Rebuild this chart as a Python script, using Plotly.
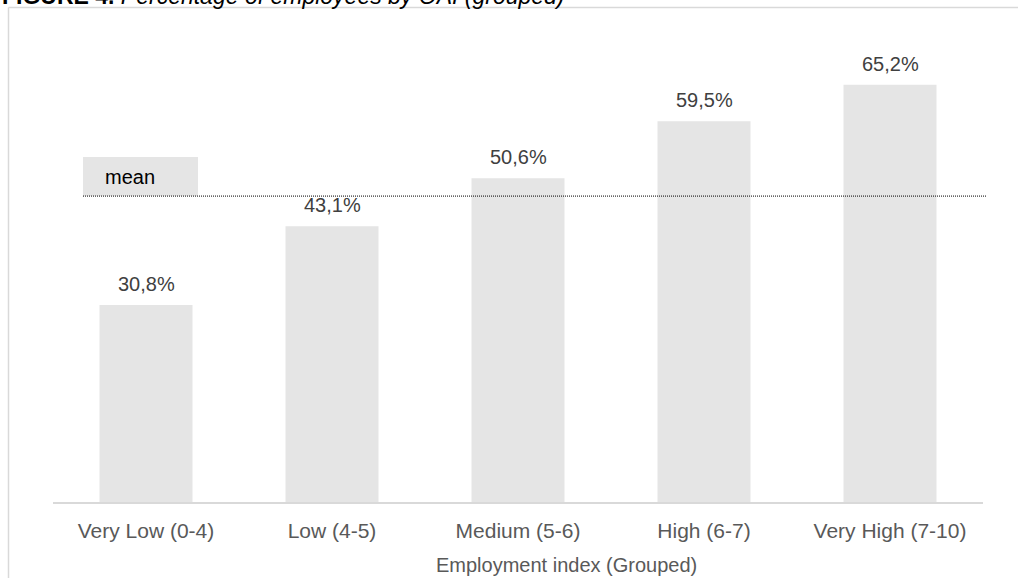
import plotly.graph_objects as go

# Share of employees by grouped employment index
categories = ["Very Low (0-4)", "Low (4-5)", "Medium (5-6)", "High (6-7)", "Very High (7-10)"]
shares = [30.8, 43.1, 50.6, 59.5, 65.2]
mean_share = 47.8
value_labels = ["30,8%", "43,1%", "50,6%", "59,5%", "65,2%"]

W, H = 1018, 578
M_L, M_R, M_T, M_B = 53, 35, 54, 76
PW, PH = W - M_L - M_R, H - M_T - M_B


def px_x(x):
    return (x - M_L) / PW


def px_y(y):
    return (H - M_B - y) / PH


FONT = "Liberation Sans, Arial, sans-serif"

fig = go.Figure()
fig.add_trace(go.Bar(
    x=categories, y=shares,
    marker=dict(color="#e5e5e5", line=dict(width=0)),
    hoverinfo="x+y",
    showlegend=False,
))

annotations = []
for cat, val, lab in zip(categories, shares, value_labels):
    annotations.append(dict(
        x=cat, y=val, xref="x", yref="y", text=lab, showarrow=False,
        yanchor="bottom", yshift=8,
        font=dict(family=FONT, size=20, color="#404040"),
    ))

# mean marker label
annotations.append(dict(
    x=px_x(103), y=px_y(177), xref="paper", yref="paper", text="mean",
    showarrow=False, xanchor="left", yanchor="middle",
    font=dict(family=FONT, size=20, color="#000000"),
))

# axis title
annotations.append(dict(
    x=px_x(566), y=px_y(565), xref="paper", yref="paper",
    text="Employment index (Grouped)", showarrow=False,
    xanchor="center", yanchor="middle",
    font=dict(family=FONT, size=20, color="#595959"),
))

# figure caption (runs off the top edge of the page)
annotations.append(dict(
    x=px_x(0), y=px_y(11), xref="paper", yref="paper",
    text="<b>FIGURE 4.</b> <i>Percentage of employees by OAI (grouped)</i>",
    showarrow=False, xanchor="left", yanchor="bottom",
    font=dict(family=FONT, size=23, color="#000000"),
))

shapes = [
    # mean label box
    dict(type="rect", xref="paper", yref="y",
         x0=px_x(83), x1=px_x(198), y0=mean_share, y1=mean_share + 6.1,
         fillcolor="#e5e5e5", line=dict(width=0), layer="below"),
    # mean line
    dict(type="line", xref="paper", yref="y",
         x0=px_x(83), x1=px_x(987), y0=mean_share, y1=mean_share,
         line=dict(color="#000000", width=1, dash="1px,1px")),
    # frame
    dict(type="line", xref="paper", yref="paper",
         x0=px_x(8.5), x1=px_x(8.5), y0=px_y(7.5), y1=px_y(H + 5),
         line=dict(color="#d9d9d9", width=1.5)),
    dict(type="line", xref="paper", yref="paper",
         x0=px_x(8.5), x1=px_x(W + 5), y0=px_y(7.5), y1=px_y(7.5),
         line=dict(color="#d9d9d9", width=1.5)),
]

fig.update_layout(
    width=W, height=H,
    margin=dict(l=M_L, r=M_R, t=M_T, b=M_B),
    paper_bgcolor="white", plot_bgcolor="white",
    bargap=0.5,
    annotations=annotations,
    shapes=shapes,
    font=dict(family=FONT),
)
fig.update_xaxes(
    showline=True, linecolor="#d9d9d9", linewidth=1.5,
    showgrid=False, ticks="", ticklabelstandoff=9,
    tickfont=dict(family=FONT, size=21, color="#595959"),
)
fig.update_yaxes(range=[0, 70], visible=False, showgrid=False, zeroline=False)

fig.write_html("out.html")
